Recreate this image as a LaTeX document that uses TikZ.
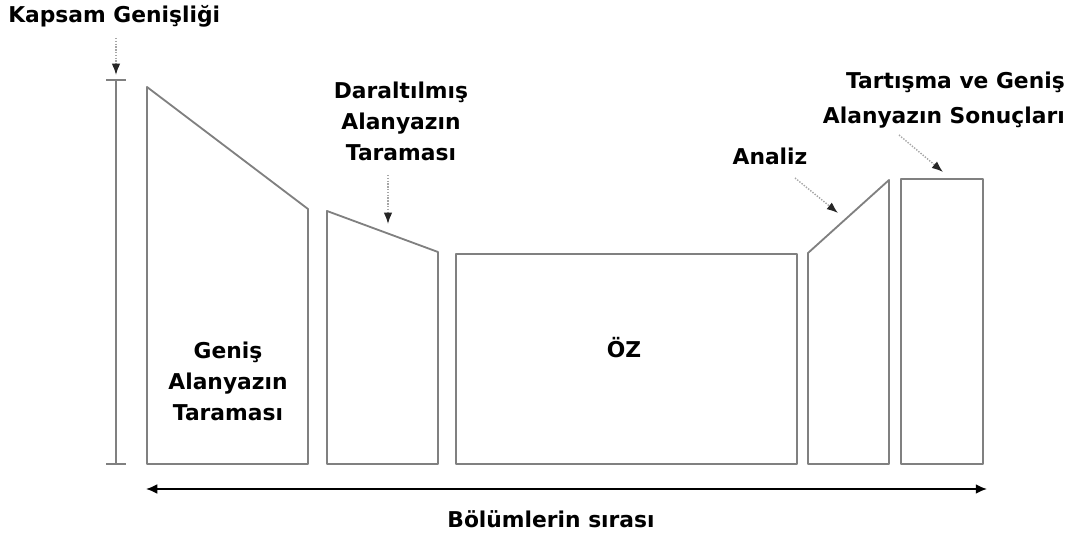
\documentclass[tikz,border=0pt]{standalone}
\usepackage{fontspec}
\setmainfont{DejaVu Sans}
\usetikzlibrary{arrows.meta}
\tikzset{
    part/.style={draw=black!50, line width=1.3pt, line join=round},
    lbl/.style={font=\fontsize{15.5}{22}\selectfont\bfseries, inner sep=0pt},
    hint/.style={draw=black!35, densely dotted, line width=1pt, -{Latex[length=8pt,width=6pt,color=black!85]}},
    order/.style={draw=black, line width=1.3pt, {Latex[length=8pt,width=7pt]}-{Latex[length=8pt,width=7pt]}}
}
\begin{document}
\begin{tikzpicture}[x=0.025cm, y=-0.025cm]
        \useasboundingbox (0,0) rectangle (1073,538);
        \draw[part] (147,464) -- (147,87) -- (308,209) -- (308,464) -- cycle;
        \draw[part] (327,464) -- (327,211) -- (438,252) -- (438,464) -- cycle;
        \draw[part] (456,254) rectangle (797,464);
        \draw[part] (808,464) -- (808,253) -- (889,180) -- (889,464) -- cycle;
        \draw[part] (901,179) rectangle (983,464);
        \coordinate (scaletop) at (116,80);
        \coordinate (scalebot) at (116,464);
        \draw[part] (scaletop) -- (scalebot);
        \draw[part] (106,80) -- (126,80);
        \draw[part] (106,464) -- (126,464);
        \node[lbl, anchor=base west] (kapsam) at (8,23) {Kapsam Genişliği};
        \node[lbl, anchor=north, align=center] (daral) at (401,82) {Daraltılmış\\Alanyazın\\Taraması};
        \node[lbl, anchor=base] (analiz) at (770,165) {Analiz};
        \node[lbl, anchor=north east, align=right] (tartisma) at (1065,72) {Tartışma ve Geniş\\[3pt]Alanyazın Sonuçları};
        \node[lbl, anchor=north, align=center] (genis) at (228,342) {Geniş\\Alanyazın\\Taraması};
        \node[lbl, anchor=base] (oz) at (624,357) {ÖZ};
        \node[lbl, anchor=base] (sira) at (551,527) {Bölümlerin sırası};
        \coordinate (kapsamfrom) at (116,38);
        \coordinate (kapsamto) at (116,75);
        \coordinate (daralfrom) at (388,175);
        \coordinate (daralto) at (388,224);
        \coordinate (analizfrom) at (795,178);
        \coordinate (analizto) at (838,213);
        \coordinate (tartismafrom) at (899,135);
        \coordinate (tartismato) at (943,172);
        \draw[hint] (kapsamfrom) -- (kapsamto);
        \draw[hint] (daralfrom) -- (daralto);
        \draw[hint] (analizfrom) -- (analizto);
        \draw[hint] (tartismafrom) -- (tartismato);
        \coordinate (orderstart) at (146,489);
        \coordinate (orderend) at (987,489);
        \draw[order] (orderstart) -- (orderend);
    \end{tikzpicture}
\end{document}
